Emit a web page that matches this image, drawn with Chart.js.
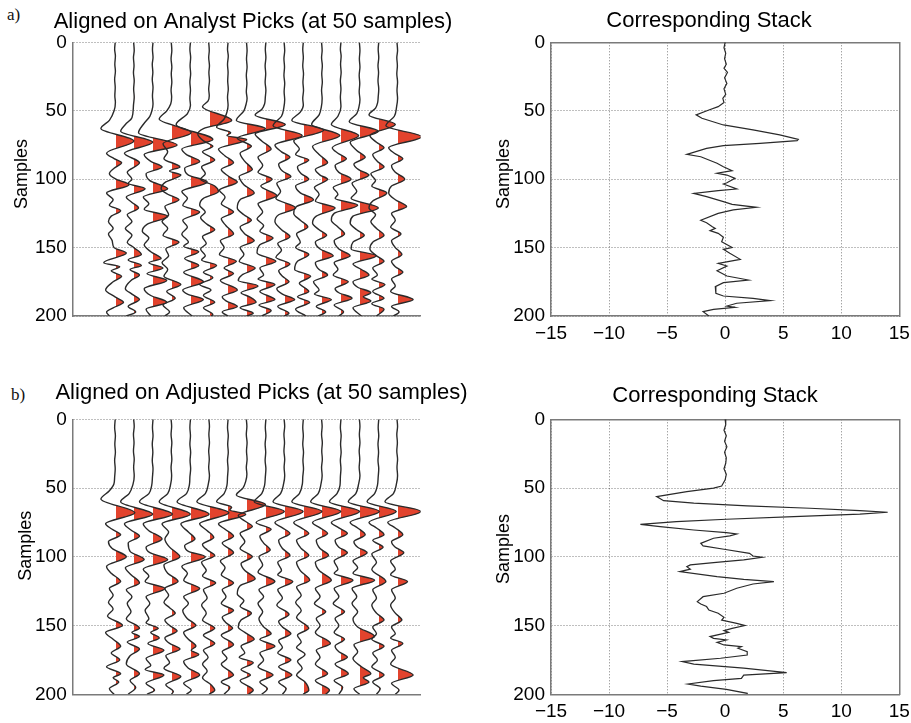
<!DOCTYPE html>
<html>
<head>
<meta charset="utf-8">
<title>Aligned traces and stacks</title>
<script src="https://cdn.jsdelivr.net/npm/chart.js"></script>
<style>
  body { margin: 0; width: 911px; height: 723px; overflow: hidden; background: #fff; position: relative; }
  canvas { position: absolute; }
  .tag { position: absolute; font: 17px "Liberation Serif", "DejaVu Serif", serif; line-height: 17px; color: #111; }
</style>
</head>
<body>
<div class="tag" style="left:7px;top:6px">a)</div>
<div class="tag" style="left:11px;top:386px">b)</div>
<canvas id="tracesA" width="506" height="340" style="left:0;top:0"></canvas>
<canvas id="stackA" width="498" height="350" style="left:460px;top:0"></canvas>
<canvas id="tracesB" width="523" height="340" style="left:0;top:377px"></canvas>
<canvas id="stackB" width="510" height="352" style="left:460px;top:377px"></canvas>

<script>
// sample axis and stack amplitude axis
const sampleTicks = [0, 50, 100, 150, 200];
const stackTicks = [-15, -10, -5, 0, 5, 10, 15];
const traceBaselines = [1, 2, 3, 4, 5, 6, 7, 8, 9, 10, 11, 12, 13, 14, 15, 16];

// each trace: [sample, amplitude] turning points, amplitude in trace spacings
const analystTraces = [
  [[0,0.01],[5,-0.02],[10,0.02],[16,-0.01],[21,0.02],[27,-0.02],[33,0.01],[39,-0.01],[44,0.02],[50,-0.05],[57,-0.3],[63,-0.75],[72,1.0],[81,-0.45],[85,-0.05],[88,0.35],[92,-0.05],[96,-0.3],[100,0.05],[104,0.75],[110,-0.45],[115,-0.1],[119,-0.3],[123,0.3],[127,-0.2],[131,-0.35],[136,-0.1],[140,-0.35],[145,-0.15],[150,-0.05],[154,0.6],[161,-0.6],[164,0.25],[167,-0.2],[171,0.35],[175,-0.1],[181,-0.5],[186,0],[190,0.45],[194,-0.1],[197,-0.45],[200,-0.3]],
  [[0,-0.01],[6,0.02],[11,-0.02],[17,0.01],[22,-0.02],[28,0.02],[34,-0.01],[40,0.02],[46,-0.02],[55,-0.1],[60,-0.45],[65,-0.7],[73,1.0],[81,-0.5],[88,0.3],[95,-0.35],[100,-0.1],[103,-0.3],[107,0.6],[113,-0.4],[117,-0.1],[121,0.25],[126,-0.35],[131,-0.1],[136,-0.45],[141,-0.1],[146,-0.35],[150,0],[155,0.4],[159,-0.3],[163,0.4],[166,-0.2],[170,0.3],[174,-0.15],[180,-0.45],[184,-0.1],[188,0.3],[193,-0.3],[197,0.1],[200,-0.4]],
  [[0,0.02],[5,-0.01],[11,0.02],[16,-0.02],[22,0.01],[27,-0.02],[33,0.02],[39,-0.01],[45,0.02],[50,-0.04],[54,-0.15],[60,-0.5],[66,-0.75],[75,1.3],[82,-0.45],[87,-0.1],[91,0.5],[96,-0.35],[101,-0.15],[107,0.8],[113,-0.5],[118,-0.2],[122,-0.45],[127,0.8],[133,-0.3],[138,-0.55],[143,-0.2],[148,-0.45],[153,-0.1],[158,0.45],[161,-0.2],[165,0.55],[169,-0.3],[174,0.75],[180,-0.45],[185,-0.1],[190,0.75],[195,-0.35],[200,-0.1]],
  [[0,-0.01],[6,0.02],[12,-0.02],[18,0.02],[23,-0.01],[29,0.02],[35,-0.02],[40,0.01],[45,-0.04],[50,-0.25],[56,-0.65],[66,1.05],[74,-0.45],[80,-0.2],[85,-0.4],[91,0.45],[94,-0.1],[97,0.5],[102,-0.3],[107,-0.55],[111,-0.2],[115,0.4],[120,-0.35],[126,-0.15],[131,-0.5],[136,-0.2],[141,-0.45],[146,0.4],[151,-0.3],[156,-0.15],[161,-0.5],[166,-0.2],[171,-0.4],[177,0.5],[182,-0.25],[187,0.2],[192,-0.45],[197,-0.1],[200,-0.35]],
  [[0,0.01],[5,-0.02],[11,0.02],[17,-0.01],[23,0.02],[29,-0.02],[35,0.01],[41,-0.02],[46,0.01],[52,-0.15],[60,-0.75],[71,1.2],[78,-0.45],[82,-0.2],[87,0.5],[92,-0.3],[97,-0.1],[102,0.9],[109,-0.45],[114,-0.15],[119,-0.4],[124,0.5],[130,-0.4],[135,-0.15],[140,-0.45],[146,-0.1],[149,-0.35],[153,0.45],[158,-0.3],[163,0.45],[168,-0.35],[175,0.7],[181,-0.4],[184,-0.15],[188,0.7],[194,-0.35],[200,0.1]],
  [[0,-0.02],[6,0.01],[11,-0.02],[17,0.02],[22,-0.01],[28,0.02],[34,-0.02],[39,0.01],[43,-0.06],[47,-0.35],[57,1.2],[63,-0.3],[67,-0.6],[72,-0.3],[76,0.2],[80,-0.35],[86,0.3],[91,-0.4],[96,-0.2],[100,-0.45],[105,0.3],[109,0.5],[114,-0.3],[119,-0.5],[124,-0.2],[128,-0.45],[133,-0.1],[137,0.3],[142,-0.35],[147,-0.15],[151,-0.45],[156,-0.2],[159,-0.4],[163,0.4],[168,-0.3],[172,0.2],[177,-0.5],[181,0.1],[185,-0.3],[190,0.3],[194,-0.3],[199,0.2],[200,0.1]],
  [[0,0.01],[5,-0.02],[10,0.02],[16,-0.02],[22,0.01],[28,-0.01],[34,0.02],[40,-0.02],[46,0.01],[51,-0.05],[56,-0.2],[62,-0.6],[66,0.15],[68,-0.05],[71,1.0],[78,-0.5],[83,-0.15],[88,0.3],[93,-0.35],[98,0.05],[102,0.5],[108,-0.45],[113,-0.15],[118,-0.35],[124,0.3],[129,-0.35],[134,-0.1],[140,0.3],[145,-0.4],[150,-0.2],[155,-0.45],[160,0.45],[165,-0.2],[169,0.3],[174,-0.4],[181,0.5],[186,-0.3],[189,-0.1],[193,0.5],[197,-0.3],[200,0]],
  [[0,-0.01],[6,0.02],[12,-0.01],[18,0.02],[24,-0.02],[30,0.01],[36,-0.02],[41,0.02],[45,-0.03],[50,-0.15],[57,-0.55],[63,1.0],[70,-0.5],[76,0.25],[81,-0.35],[87,-0.1],[93,0.3],[98,-0.4],[104,-0.15],[110,0.4],[115,-0.35],[121,-0.5],[126,-0.15],[130,0.25],[135,-0.35],[140,-0.1],[145,0.4],[150,-0.35],[155,-0.15],[160,-0.4],[165,0.45],[170,-0.25],[174,-0.45],[178,0.6],[183,-0.3],[186,0.15],[190,0.5],[194,-0.35],[198,0.35],[200,0]],
  [[0,0.02],[5,-0.01],[11,0.02],[17,-0.02],[23,0.01],[29,-0.02],[35,0.02],[40,-0.01],[45,-0.05],[49,-0.2],[53,-0.55],[60,1.05],[67,-0.55],[72,-0.2],[78,0.3],[84,-0.4],[90,-0.15],[95,-0.4],[100,0.35],[105,-0.25],[112,0.6],[118,-0.4],[124,-0.15],[129,-0.45],[134,-0.1],[138,-0.3],[143,0.4],[148,-0.3],[154,-0.45],[160,0.55],[165,-0.3],[170,-0.1],[173,-0.4],[177,0.5],[182,-0.3],[188,0.5],[192,-0.35],[196,0.3],[200,-0.2]],
  [[0,-0.01],[6,0.02],[12,-0.02],[18,0.01],[24,-0.02],[30,0.02],[36,-0.01],[42,0.02],[48,-0.03],[54,-0.15],[61,-0.6],[68,0.95],[75,-0.5],[80,-0.15],[84,0.3],[89,-0.3],[94,-0.1],[98,0.35],[103,-0.4],[109,-0.2],[114,-0.45],[121,0.6],[126,-0.3],[131,-0.5],[137,-0.15],[142,0.3],[147,-0.35],[152,-0.15],[157,-0.45],[162,0.3],[167,-0.3],[171,-0.1],[175,0.25],[180,-0.4],[184,-0.1],[188,0.55],[193,-0.35],[198,0.25],[200,0]],
  [[0,0.01],[5,-0.02],[11,0.01],[17,-0.02],[23,0.02],[29,-0.01],[35,0.02],[41,-0.02],[46,0.01],[51,-0.15],[57,-0.6],[64,1.1],[72,-0.5],[78,-0.2],[82,-0.4],[86,0.3],[91,-0.3],[96,-0.1],[100,0.3],[105,-0.4],[110,-0.15],[115,0.55],[120,-0.35],[125,-0.5],[130,-0.15],[135,0.25],[140,-0.35],[146,-0.15],[150,-0.4],[155,0.3],[160,-0.3],[166,-0.45],[171,0.4],[176,-0.2],[182,0.3],[186,-0.3],[190,0.35],[195,-0.4],[200,0.15]],
  [[0,-0.02],[6,0.01],[11,-0.02],[17,0.02],[23,-0.01],[29,0.02],[35,-0.02],[41,0.01],[47,-0.03],[53,-0.15],[60,-0.55],[68,0.95],[76,-0.5],[82,-0.15],[88,0.3],[93,-0.35],[97,-0.1],[100,0.3],[106,-0.4],[111,-0.15],[116,-0.35],[121,0.7],[127,-0.3],[132,-0.5],[137,-0.15],[141,0.25],[146,-0.35],[151,-0.1],[156,0.6],[161,-0.35],[166,-0.15],[170,0.3],[175,-0.45],[181,-0.15],[184,-0.4],[188,0.5],[193,-0.3],[197,0.2],[200,-0.2]],
  [[0,0.01],[5,-0.02],[10,0.02],[16,-0.01],[22,0.02],[28,-0.02],[34,0.01],[40,-0.02],[47,0.01],[54,-0.15],[60,-0.5],[68,0.95],[77,-0.45],[81,-0.15],[85,0.3],[90,-0.3],[95,-0.1],[100,0.55],[106,-0.4],[111,-0.15],[114,-0.3],[119,0.9],[125,-0.35],[130,-0.5],[135,-0.15],[140,0.2],[145,-0.35],[151,-0.1],[156,0.5],[161,-0.35],[166,-0.15],[170,-0.4],[175,0.4],[180,-0.3],[183,-0.1],[187,0.6],[192,-0.35],[197,0.15],[200,-0.1]],
  [[0,-0.01],[6,0.02],[12,-0.01],[18,0.02],[24,-0.02],[30,0.01],[36,-0.02],[42,0.02],[47,-0.03],[52,-0.15],[58,-0.55],[65,1.0],[73,-0.5],[79,-0.15],[84,0.3],[89,-0.3],[93,-0.05],[97,0.5],[103,-0.4],[109,-0.15],[114,-0.45],[121,1.0],[127,-0.35],[132,-0.5],[137,-0.15],[141,0.25],[146,-0.35],[151,-0.45],[156,0.9],[162,-0.35],[166,0.1],[170,0.5],[175,-0.35],[179,-0.1],[183,0.6],[186,0.2],[189,0.6],[194,-0.35],[200,0.1]],
  [[0,0.02],[5,-0.01],[11,0.02],[17,-0.02],[22,0.01],[28,-0.02],[34,0.02],[40,-0.01],[44,-0.04],[48,-0.15],[53,-0.5],[60,0.9],[68,-0.45],[73,-0.1],[77,0.3],[82,-0.3],[87,-0.05],[91,0.3],[96,-0.4],[101,-0.15],[105,-0.35],[110,0.45],[116,-0.3],[121,-0.5],[126,-0.15],[131,-0.4],[136,-0.1],[141,0.3],[146,-0.3],[151,-0.45],[156,-0.1],[160,0.3],[165,-0.3],[170,-0.05],[173,-0.35],[177,0.35],[182,-0.3],[187,0.3],[191,-0.35],[195,0.3],[200,-0.1]],
  [[0,-0.01],[6,0.02],[11,-0.02],[17,0.01],[23,-0.02],[29,0.02],[35,-0.01],[41,0.02],[47,-0.03],[54,-0.15],[61,-0.6],[69,1.3],[77,-0.45],[81,-0.15],[85,0.3],[90,-0.3],[95,-0.1],[100,0.4],[105,-0.3],[110,-0.45],[115,-0.1],[120,0.5],[125,-0.3],[130,-0.1],[135,-0.35],[140,0.2],[145,-0.3],[150,-0.1],[155,0.25],[160,-0.3],[164,-0.1],[168,0.3],[173,-0.3],[178,-0.1],[182,-0.35],[188,0.85],[193,-0.3],[197,0.1],[200,-0.2]]
];

const adjustedTraces = [
  [[0,0.01],[6,-0.02],[12,0.02],[18,-0.01],[24,0.02],[30,-0.02],[36,0.01],[42,-0.02],[47,-0.06],[52,-0.3],[58,-0.75],[68,1.05],[76,-0.5],[80,-0.15],[84,0.3],[89,-0.35],[94,-0.15],[100,0.6],[107,-0.45],[112,-0.2],[118,0.3],[123,-0.3],[128,-0.1],[133,-0.35],[138,-0.1],[143,-0.4],[150,0.4],[155,-0.5],[160,-0.1],[165,0.3],[170,-0.2],[175,0.25],[180,-0.45],[185,0.3],[188,-0.1],[191,0.2],[196,-0.3],[200,-0.05]],
  [[0,-0.01],[5,0.02],[11,-0.02],[17,0.01],[23,-0.02],[29,0.02],[35,-0.01],[41,0.02],[47,-0.04],[54,-0.25],[60,-0.7],[69,1.0],[76,-0.5],[81,-0.1],[85,0.3],[90,-0.3],[96,-0.2],[102,0.55],[108,-0.45],[113,-0.15],[119,0.3],[124,-0.4],[129,-0.1],[134,-0.35],[140,-0.15],[145,-0.4],[152,0.3],[155,-0.1],[158,0.3],[162,-0.35],[167,0.3],[172,-0.2],[178,-0.4],[185,0.3],[190,-0.2],[195,0.1],[200,-0.3]],
  [[0,0.02],[6,-0.01],[12,0.02],[18,-0.02],[24,0.01],[30,-0.02],[36,0.02],[42,-0.01],[48,-0.05],[54,-0.2],[60,-0.7],[69,1.05],[76,-0.5],[81,-0.2],[87,0.5],[93,-0.35],[97,-0.15],[102,0.8],[109,-0.5],[114,-0.2],[118,-0.4],[123,0.65],[129,-0.35],[134,-0.15],[139,-0.4],[145,-0.2],[148,-0.35],[152,0.3],[155,-0.1],[159,0.35],[163,-0.25],[168,0.6],[174,-0.35],[179,-0.1],[182,-0.4],[186,0.6],[192,-0.35],[197,0.1],[200,-0.3]],
  [[0,-0.02],[5,0.01],[11,-0.02],[17,0.02],[23,-0.01],[29,0.02],[35,-0.02],[41,0.01],[47,-0.04],[54,-0.2],[60,-0.65],[69,1.0],[76,-0.5],[82,-0.15],[87,-0.35],[93,-0.1],[100,0.45],[106,-0.4],[112,-0.2],[118,0.35],[123,-0.35],[128,-0.15],[133,-0.4],[137,-0.1],[141,0.2],[146,-0.35],[150,-0.1],[154,0.3],[159,-0.35],[163,-0.1],[167,0.45],[172,-0.3],[177,-0.1],[181,-0.4],[187,0.5],[193,-0.3],[198,0.1],[200,0]],
  [[0,0.01],[6,-0.02],[12,0.01],[18,-0.02],[24,0.02],[30,-0.01],[36,0.02],[42,-0.02],[47,-0.04],[54,-0.2],[60,-0.7],[69,1.0],[76,-0.5],[82,-0.1],[87,0.25],[92,-0.3],[96,-0.1],[100,0.8],[107,-0.45],[112,-0.15],[117,-0.35],[123,0.5],[129,-0.35],[134,-0.1],[139,-0.4],[145,-0.15],[150,0.3],[155,-0.35],[160,-0.1],[165,0.3],[168,0.05],[171,0.45],[176,-0.35],[181,-0.1],[186,0.5],[192,-0.35],[197,0.05],[200,-0.2]],
  [[0,-0.01],[5,0.02],[11,-0.01],[17,0.02],[23,-0.02],[29,0.01],[35,-0.02],[41,0.02],[47,-0.04],[54,-0.2],[60,-0.65],[68,1.05],[76,-0.5],[81,-0.1],[86,0.25],[91,-0.35],[95,-0.1],[99,0.3],[104,-0.4],[110,-0.15],[114,-0.35],[119,0.35],[124,-0.3],[130,-0.1],[135,-0.4],[141,-0.15],[146,-0.35],[152,0.3],[157,-0.3],[163,0.3],[168,-0.3],[173,-0.05],[178,-0.35],[183,-0.1],[188,-0.35],[193,0.1],[197,0.3],[200,0]],
  [[0,0.01],[6,-0.02],[12,0.02],[18,-0.01],[24,0.02],[30,-0.02],[36,0.01],[42,-0.02],[48,-0.05],[54,-0.2],[60,-0.6],[64,0.2],[66,0.1],[69,0.95],[76,-0.5],[80,-0.15],[85,0.3],[90,-0.3],[97,0.3],[103,-0.4],[108,-0.15],[113,-0.35],[119,0.3],[124,-0.3],[129,-0.1],[134,-0.35],[139,0.3],[144,-0.3],[148,-0.1],[152,0.25],[157,-0.35],[164,0.3],[169,-0.3],[174,-0.05],[178,-0.35],[186,0.3],[191,-0.35],[195,0.1],[200,-0.2]],
  [[0,-0.02],[5,0.01],[11,-0.02],[17,0.02],[23,-0.01],[29,0.02],[35,-0.02],[40,0.01],[45,-0.05],[50,-0.2],[55,-0.55],[62,1.0],[70,-0.45],[74,-0.1],[78,0.3],[83,-0.35],[89,-0.1],[94,-0.35],[100,0.3],[105,-0.3],[110,-0.1],[116,0.45],[121,-0.35],[127,-0.5],[132,-0.15],[136,-0.35],[141,0.25],[146,-0.3],[151,-0.45],[155,-0.1],[160,0.4],[165,-0.3],[170,-0.1],[173,-0.4],[177,0.35],[182,-0.3],[186,0.2],[190,-0.35],[197,0.35],[200,0.1]],
  [[0,0.02],[6,-0.01],[12,0.02],[18,-0.02],[24,0.01],[30,-0.02],[36,0.02],[42,-0.01],[48,-0.05],[54,-0.2],[60,-0.6],[67,1.0],[75,-0.5],[80,0.3],[85,-0.3],[90,-0.1],[95,0.25],[100,-0.35],[106,-0.15],[111,-0.4],[118,0.5],[124,-0.35],[129,-0.1],[134,-0.4],[140,-0.15],[145,-0.35],[151,-0.1],[156,0.3],[160,-0.3],[165,0.5],[170,-0.3],[175,-0.1],[180,-0.4],[186,0.4],[191,-0.3],[196,0.1],[200,-0.2]],
  [[0,-0.01],[5,0.02],[11,-0.02],[17,0.01],[23,-0.02],[29,0.02],[35,-0.01],[41,0.02],[47,-0.04],[54,-0.2],[60,-0.6],[67,1.0],[75,-0.5],[79,-0.1],[83,0.3],[88,-0.3],[94,-0.1],[99,0.3],[104,-0.35],[110,-0.15],[113,-0.35],[118,0.45],[124,-0.35],[130,-0.1],[135,-0.4],[142,0.25],[147,-0.3],[151,-0.1],[156,0.35],[161,-0.3],[166,-0.1],[170,-0.35],[175,0.35],[180,-0.3],[186,0.4],[191,-0.3],[196,0.1],[200,-0.1]],
  [[0,0.01],[6,-0.02],[12,0.01],[18,-0.02],[24,0.02],[30,-0.01],[36,0.02],[42,-0.02],[47,-0.04],[54,-0.2],[60,-0.6],[67,1.0],[75,-0.5],[79,-0.1],[83,0.3],[88,-0.35],[94,-0.1],[99,0.3],[104,-0.35],[110,-0.15],[117,0.35],[122,-0.35],[128,-0.1],[133,-0.4],[139,-0.1],[144,-0.35],[152,0.3],[157,-0.3],[162,-0.1],[166,-0.35],[171,0.1],[176,-0.3],[181,-0.05],[186,-0.35],[191,0.1],[197,0.3],[200,0]],
  [[0,-0.02],[5,0.01],[11,-0.02],[17,0.02],[23,-0.01],[29,0.02],[35,-0.02],[41,0.01],[47,-0.05],[54,-0.2],[60,-0.6],[67,1.0],[75,-0.5],[79,-0.1],[83,0.3],[88,-0.3],[94,-0.1],[99,0.35],[104,-0.35],[110,-0.15],[117,0.5],[123,-0.35],[129,-0.1],[134,-0.4],[140,0.2],[145,-0.3],[150,-0.1],[155,-0.35],[163,0.45],[168,-0.3],[173,-0.1],[178,-0.35],[185,0.3],[190,-0.35],[197,0.4],[200,0.2]],
  [[0,0.01],[6,-0.02],[12,0.02],[18,-0.01],[24,0.02],[30,-0.02],[36,0.01],[42,-0.02],[48,-0.04],[54,-0.2],[60,-0.6],[67,1.0],[75,-0.5],[79,-0.1],[83,0.35],[88,-0.3],[93,-0.1],[97,0.35],[103,-0.35],[109,-0.15],[112,-0.35],[117,0.65],[123,-0.35],[129,-0.1],[134,-0.4],[140,0.2],[145,-0.3],[150,-0.1],[155,-0.35],[160,0.2],[165,-0.3],[169,-0.1],[173,0.35],[178,-0.3],[185,0.4],[190,-0.35],[195,0.1],[200,-0.1]],
  [[0,-0.01],[5,0.02],[11,-0.01],[17,0.02],[23,-0.02],[29,0.01],[35,-0.02],[41,0.02],[47,-0.05],[54,-0.2],[60,-0.6],[67,1.05],[75,-0.5],[79,-0.1],[84,0.3],[89,-0.3],[93,-0.1],[97,0.4],[103,-0.35],[108,-0.1],[112,-0.35],[117,0.8],[123,-0.4],[129,-0.15],[134,-0.4],[140,-0.1],[145,-0.35],[151,-0.1],[158,0.8],[164,-0.3],[169,-0.1],[174,-0.35],[180,0.1],[185,0.6],[188,0.2],[191,0.5],[196,-0.3],[200,0]],
  [[0,0.02],[6,-0.01],[12,0.02],[18,-0.02],[24,0.01],[30,-0.02],[36,0.02],[42,-0.01],[48,-0.05],[54,-0.2],[60,-0.6],[67,0.95],[75,-0.5],[79,-0.1],[84,0.3],[88,-0.3],[93,0.25],[98,-0.35],[104,-0.1],[109,-0.35],[118,0.4],[124,-0.3],[130,-0.1],[135,-0.35],[141,-0.1],[146,0.3],[151,-0.3],[156,-0.1],[160,-0.35],[165,0.3],[170,-0.3],[175,-0.05],[180,-0.35],[186,0.3],[191,-0.3],[196,0.1],[200,-0.1]],
  [[0,-0.01],[5,0.02],[11,-0.02],[17,0.01],[23,-0.02],[29,0.02],[35,-0.01],[41,0.02],[47,-0.04],[54,-0.2],[60,-0.65],[67,1.25],[75,-0.5],[79,-0.1],[84,0.3],[89,-0.3],[93,-0.1],[97,0.35],[103,-0.35],[109,-0.1],[113,-0.35],[118,0.55],[124,-0.3],[130,-0.1],[135,-0.35],[141,-0.1],[146,0.25],[151,-0.3],[156,-0.1],[159,-0.35],[163,0.3],[168,-0.3],[173,-0.1],[178,-0.35],[186,0.85],[192,-0.3],[197,0.1],[200,-0.1]]
];

// stacked traces: [sample, amplitude]
const analystStack = [[0,0],[4,-0.1],[8,0.05],[12,-0.05],[16,0.1],[19,-0.1],[22,0.2],[26,-0.05],[30,0.15],[34,-0.1],[38,0.05],[41,-0.2],[44,-0.1],[47,-0.6],[49.5,-1.4],[53,-2.5],[55.5,-2.0],[60.4,-0.15],[64,2.4],[67.7,4.7],[70.9,6.3],[71.9,6.2],[73.8,3.0],[75.5,-0.15],[77.5,-1.6],[81.9,-3.3],[83.6,-2.1],[88.4,-0.7],[90.9,-0.15],[93.8,0.6],[95.7,-0.7],[97,0.15],[99.4,0.85],[102.6,0.15],[103.5,-0.15],[107.2,1.0],[108.4,-0.6],[110.4,-2.7],[112.8,-1.6],[116.4,-0.15],[118.4,0.6],[120.6,2.7],[122.5,0.7],[125,-0.6],[130,-2.1],[131.8,-1.6],[134.7,-1.1],[136,-0.85],[137.6,-1.3],[139.6,-0.6],[142.5,-0.15],[145.7,-0.3],[150,0.6],[151.3,-0.15],[154.2,0.4],[158.6,1.3],[161.5,-0.6],[163.5,0.15],[166.9,-0.7],[170.8,0.15],[173.7,2.0],[175.6,-0.15],[178.6,-0.85],[183.4,-0.8],[185.4,-0.15],[187.1,2.4],[188.8,3.9],[190.7,1.0],[192.7,0.15],[193.7,0.85],[195.1,-1.0],[196.8,-1.9],[200,-1.4]];

const adjustedStack = [[0,0],[4,0.05],[8,-0.1],[12,0.1],[16,-0.05],[20,0.15],[24,-0.05],[28,0.1],[32,0.05],[36,-0.1],[40,0.1],[44,0],[48.5,-0.3],[50,-1.0],[52.6,-3.3],[56.2,-5.9],[59.2,-5.3],[61,-2.7],[63,1.9],[64.7,7.3],[66.4,11.6],[67.6,14.0],[69,11.6],[70.8,5.9],[72.7,0.1],[74.4,-4.2],[76.4,-7.3],[78,-5.6],[80.5,-2.7],[82.4,0.1],[83.4,1.0],[84.8,0.4],[86.5,-1.0],[90.2,-2.1],[92.1,-1.9],[94.5,-0.1],[97.5,2.1],[99.4,2.4],[100.4,3.2],[102.3,1.6],[104.2,-1.0],[105.9,-3.0],[107.2,-3.3],[109,-3.0],[110.8,-3.9],[114.4,-0.7],[116.4,1.6],[118,4.2],[119.8,2.4],[122.9,1.0],[126.5,-0.1],[129,-1.9],[132.6,-2.4],[134.3,-2.1],[136.2,-1.6],[138.7,-1.4],[141,-0.6],[144,-0.1],[146,-0.3],[148.4,1.0],[150,1.7],[152,0.6],[153.7,-0.1],[155,0.3],[158,-1.3],[159.3,-1.0],[160.5,0.1],[162.2,-0.7],[164.1,-0.1],[165.3,1.4],[166.5,1.1],[169,1.9],[171.4,1.9],[173.8,-0.4],[176.2,-3.7],[178,-2.7],[181,1.6],[184.2,5.3],[186,1.6],[188.4,1.4],[190,-1.0],[192.5,-3.2],[194,-2.1],[196.4,0.1],[199.3,1.9],[200,1.9]];

const FONT = '"Liberation Sans", Arial, Helvetica, sans-serif';
const AXIS_GREY = '#7a7a7a';
const GRID_GREY = 'rgba(0,0,0,0.5)';
const TRACE_INK = '#2a2a2a';
const LOBE_RED = '#e2432d';

Chart.defaults.font.family = FONT;
Chart.defaults.color = '#000';

// clips a lobe dataset (and its area fill) to the right of its trace baseline,
// so only the positive half of each wiggle is shaded
const lobeClip = {
  id: 'lobeClip',
  beforeDatasetDraw(chart, args) {
    const ds = chart.data.datasets[args.index];
    if (ds.lobeBase === undefined) return;
    const area = chart.chartArea;
    // start on a whole pixel so the left-hand fill cannot bleed through
    const left = Math.floor(chart.scales.x.getPixelForValue(ds.lobeBase)) + 1;
    const ctx = chart.ctx;
    ctx.save();
    ctx.beginPath();
    ctx.rect(left, area.top, area.right - left, area.bottom - area.top);
    ctx.clip();
  },
  afterDatasetDraw(chart, args) {
    if (chart.data.datasets[args.index].lobeBase === undefined) return;
    chart.ctx.restore();
  }
};
// the clip has to be in place before the filler paints, so it goes ahead of it
const fillerPlugin = Chart.registry.plugins.get('filler');
if (fillerPlugin) {
  Chart.unregister(fillerPlugin);
  Chart.register(lobeClip, fillerPlugin);
} else {
  Chart.register(lobeClip);
}

// rotated axis label placed at a fixed spot on the canvas
const sideLabel = {
  id: 'sideLabel',
  afterDraw(chart, args, opts) {
    if (!opts.text) return;
    const ctx = chart.ctx;
    ctx.save();
    ctx.translate(opts.x, opts.y);
    ctx.rotate(-Math.PI / 2);
    ctx.font = '18px ' + FONT;
    ctx.fillStyle = '#000';
    ctx.textAlign = 'center';
    ctx.textBaseline = 'middle';
    ctx.fillText(opts.text, 0, 0);
    ctx.restore();
  }
};

function sampleAxis(width) {
  return {
    type: 'linear', reverse: true, min: 0, max: 200,
    afterBuildTicks: s => { s.ticks = sampleTicks.map(v => ({ value: v })); },
    ticks: { font: { size: 19 }, padding: 6, color: '#000' },
    grid: { color: GRID_GREY, drawTicks: false },
    border: { color: AXIS_GREY, width: 1.5, dash: [1, 2] },
    afterFit: s => { s.width = width; }
  };
}

function spacer(position, size, showBorder) {
  const horizontal = position === 'top' || position === 'bottom';
  return {
    type: 'linear', position, display: true,
    ticks: { display: false },
    grid: { display: false, drawTicks: false },
    border: { display: showBorder, color: AXIS_GREY, width: 1.5 },
    afterFit: s => { if (horizontal) s.height = size; else s.width = size; }
  };
}

function wiggleChart(id, title, traces, g) {
  const toPoints = (pts, i) => pts.map(([s, a]) => ({ x: traceBaselines[i] + a, y: s }));
  const lines = traces.map((pts, i) => ({
    data: toPoints(pts, i),
    borderColor: TRACE_INK, borderWidth: 1.4, pointRadius: 0, fill: false,
    cubicInterpolationMode: 'monotone'
  }));
  const lobes = traces.map((pts, i) => ({
    data: toPoints(pts, i),
    lobeBase: traceBaselines[i],
    borderWidth: 0, pointRadius: 0, backgroundColor: LOBE_RED,
    cubicInterpolationMode: 'monotone',
    fill: { value: traceBaselines[i] }
  }));

  new Chart(document.getElementById(id), {
    type: 'line',
    data: { datasets: lines.concat(lobes) },
    options: {
      indexAxis: 'y',
      responsive: false,
      animation: false,
      layout: { padding: { top: 0, left: 0, right: 0, bottom: g.bottom } },
      plugins: {
        legend: { display: false },
        tooltip: { enabled: false },
        title: { display: true, text: title, color: '#000', font: { size: 22, weight: 'normal' }, padding: g.titlePad },
        sideLabel: { text: 'Samples', x: g.labelX, y: g.labelY }
      },
      scales: {
        x: {
          type: 'linear', min: -1.25, max: 17.25,
          ticks: { display: false },
          grid: { display: false, drawTicks: false },
          border: { color: AXIS_GREY, width: 1.5 },
          afterFit: s => { s.height = 0; }
        },
        y: sampleAxis(72.7),
        yRight: spacer('right', g.right, false)
      }
    },
    plugins: [sideLabel]
  });
}

function stackChart(id, stack, g) {
  new Chart(document.getElementById(id), {
    type: 'scatter',
    data: {
      datasets: [{
        data: stack.map(([s, v]) => ({ x: v, y: s })),
        showLine: true, borderColor: TRACE_INK, borderWidth: 1.2, pointRadius: 0
      }]
    },
    options: {
      responsive: false,
      animation: false,
      layout: { padding: 0 },
      plugins: {
        legend: { display: false },
        tooltip: { enabled: false },
        title: { display: true, text: 'Corresponding Stack', color: '#000', font: { size: 22, weight: 'normal' }, padding: g.titlePad },
        sideLabel: { text: 'Samples', x: g.labelX, y: g.labelY }
      },
      scales: {
        x: {
          type: 'linear', min: -15, max: 15,
          afterBuildTicks: s => { s.ticks = stackTicks.map(v => ({ value: v })); },
          ticks: {
            font: { size: 19 }, padding: 6, color: '#000',
            callback: v => (v < 0 ? '\u2212' + (-v) : String(v))
          },
          grid: { color: GRID_GREY, drawTicks: false },
          border: { color: AXIS_GREY, width: 1.5, dash: [1, 2] },
          afterFit: s => { s.height = g.xHeight; }
        },
        y: sampleAxis(91),
        xTop: spacer('top', 0, true),
        yRight: spacer('right', g.right, true)
      }
    },
    plugins: [sideLabel]
  });
}

wiggleChart('tracesA', 'Aligned on Analyst Picks (at 50 samples)', analystTraces,
  { titlePad: { top: 8.8, bottom: 7.2 }, right: 85.3, bottom: 24, labelX: 21.7, labelY: 174 });
stackChart('stackA', analystStack,
  { titlePad: { top: 7.8, bottom: 8.1 }, right: 58.7, xHeight: 34, labelX: 44, labelY: 174 });
wiggleChart('tracesB', 'Aligned on Adjusted Picks (at 50 samples)', adjustedTraces,
  { titlePad: { top: 3.1, bottom: 12.8 }, right: 102.3, bottom: 22.7, labelX: 25.8, labelY: 168.8 });
stackChart('stackB', adjustedStack,
  { titlePad: { top: 5.6, bottom: 10.3 }, right: 70.7, xHeight: 34.7, labelX: 44, labelY: 172 });
</script>
</body>
</html>
